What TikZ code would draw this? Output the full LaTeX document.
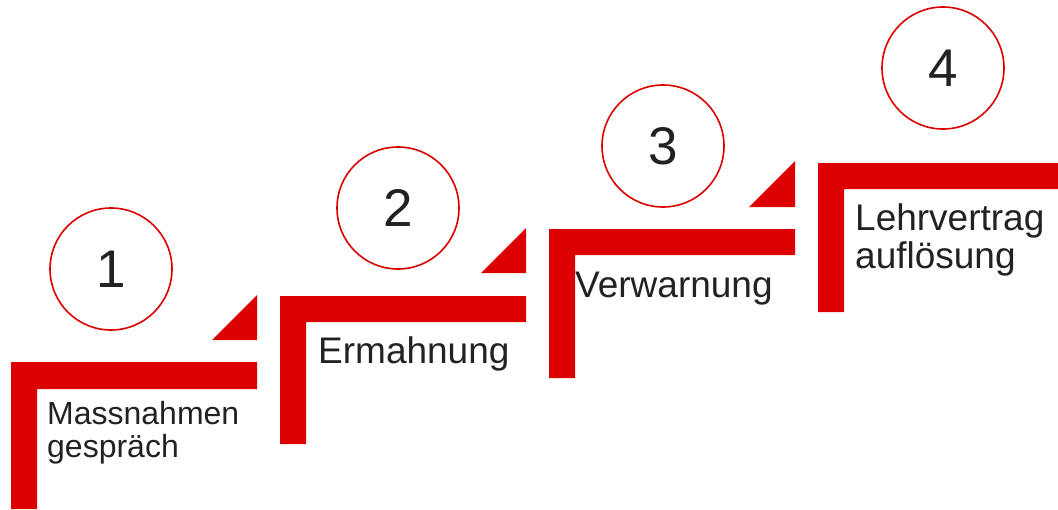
\documentclass[tikz,border=0pt]{standalone}
\usepackage{fontspec}
\setmainfont{Liberation Sans}
\definecolor{stepred}{HTML}{DD0000}
\definecolor{txt}{HTML}{222222}
\begin{document}
\begin{tikzpicture}[x=1pt,y=-1pt,
  stair/.style={fill=stepred,draw=none},
  num/.style={circle,draw=stepred,line width=1.6pt,minimum size=122pt,inner sep=0pt,
    font=\fontsize{53}{60}\selectfont,text=txt},
  lbl/.style={anchor=base west,inner sep=0pt,text=txt}]
\useasboundingbox[fill=white] (0,0) rectangle (1058,509);
% step 1
\fill[stair] (11,509) -- (11,362) -- (257,362) -- (257,389) -- (37,389) -- (37,509) -- cycle;
\fill[stair] (212,340) -- (257,340) -- (257,295) -- cycle;
\node[num] (c1) at (111,269) {1};
\node[lbl,font=\fontsize{32}{38}\selectfont] (t1a) at (47,424) {Massnahmen};
\node[lbl,font=\fontsize{32}{38}\selectfont] (t1b) at (47,457) {gespräch};
% step 2
\fill[stair] (280,444) -- (280,296) -- (526,296) -- (526,322) -- (306,322) -- (306,444) -- cycle;
\fill[stair] (481,273) -- (526,273) -- (526,228) -- cycle;
\node[num] (c2) at (398,208) {2};
\node[lbl,font=\fontsize{37}{43}\selectfont] (t2) at (318,363) {Ermahnung};
% step 3
\fill[stair] (549,378) -- (549,229) -- (795,229) -- (795,255) -- (575,255) -- (575,378) -- cycle;
\fill[stair] (749,207) -- (795,207) -- (795,161) -- cycle;
\node[num] (c3) at (663,146) {3};
\node[lbl,font=\fontsize{37}{43}\selectfont] (t3) at (575,297) {Verwarnung};
% step 4
\fill[stair] (818,312) -- (818,163) -- (1058,163) -- (1058,189) -- (844,189) -- (844,312) -- cycle;
\node[num] (c4) at (943,68) {4};
\node[lbl,font=\fontsize{37}{43}\selectfont] (t4a) at (855,230) {Lehrvertrag};
\node[lbl,font=\fontsize{37}{43}\selectfont] (t4b) at (855,268) {auflösung};
\end{tikzpicture}
\end{document}
